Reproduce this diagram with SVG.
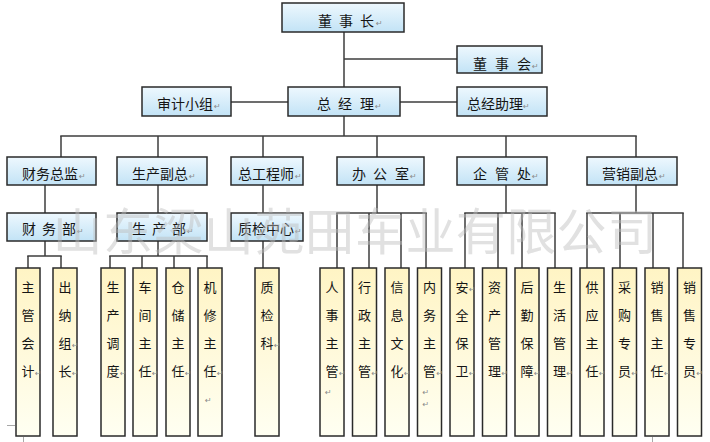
<svg xmlns="http://www.w3.org/2000/svg" width="710" height="442" viewBox="0 0 710 442">
<defs>
<linearGradient id="gb" x1="0" y1="0" x2="0" y2="1"><stop offset="0" stop-color="#eef8fe"/><stop offset="1" stop-color="#c2e3f6"/></linearGradient>
<linearGradient id="gy" x1="0" y1="0" x2="0" y2="1"><stop offset="0" stop-color="#fff4c4"/><stop offset="1" stop-color="#fffff2"/></linearGradient>
<style>
.b{fill:url(#gb);stroke:#2a2a2a;stroke-width:1.5}
.y{fill:url(#gy);stroke:#2a2a2a;stroke-width:1.5}
.t{font-family:"Noto Sans CJK SC","Noto Sans CJK JP",sans-serif;font-size:14px;fill:#151515}
.l{font-family:"Noto Sans CJK SC","Noto Sans CJK JP",sans-serif;font-size:13px;fill:#151515;text-anchor:middle}
.r{font-family:"DejaVu Sans",sans-serif;font-size:8px;fill:#8a8a8a}
.c line{stroke:#3c3c3c;stroke-width:1.5}
.wm{font-family:"Noto Sans CJK SC","Noto Sans CJK JP",sans-serif;font-size:50px;fill:#bdbdbd;opacity:0.45;letter-spacing:0.4px}
</style>
</defs>
<rect width="710" height="442" fill="#ffffff"/>
<g id="connectors" class="c">
<line x1="344" y1="32" x2="344" y2="87"/>
<line x1="344" y1="59" x2="457" y2="59"/>
<line x1="231" y1="102" x2="288" y2="102"/>
<line x1="400" y1="102" x2="457" y2="102"/>
<line x1="344" y1="116" x2="344" y2="136"/>
<line x1="60.25" y1="136" x2="636.75" y2="136"/>
<line x1="61" y1="136" x2="61" y2="157"/>
<line x1="158" y1="136" x2="158" y2="157"/>
<line x1="263" y1="136" x2="263" y2="157"/>
<line x1="377" y1="136" x2="377" y2="157"/>
<line x1="506" y1="136" x2="506" y2="157"/>
<line x1="636" y1="136" x2="636" y2="157"/>
<line x1="45" y1="185" x2="45" y2="213"/>
<line x1="158" y1="185" x2="158" y2="213"/>
<line x1="263" y1="185" x2="263" y2="213"/>
<line x1="377" y1="185" x2="377" y2="213"/>
<line x1="506" y1="185" x2="506" y2="213"/>
<line x1="636" y1="185" x2="636" y2="213"/>
<line x1="336.25" y1="213" x2="426.75" y2="213"/>
<line x1="337" y1="213" x2="337" y2="268"/>
<line x1="369" y1="213" x2="369" y2="268"/>
<line x1="401" y1="213" x2="401" y2="268"/>
<line x1="426" y1="213" x2="426" y2="268"/>
<line x1="464.25" y1="213" x2="555.75" y2="213"/>
<line x1="465" y1="213" x2="465" y2="268"/>
<line x1="498" y1="213" x2="498" y2="268"/>
<line x1="522" y1="213" x2="522" y2="268"/>
<line x1="555" y1="213" x2="555" y2="268"/>
<line x1="586.25" y1="213" x2="683.75" y2="213"/>
<line x1="587" y1="213" x2="587" y2="268"/>
<line x1="620" y1="213" x2="620" y2="268"/>
<line x1="653" y1="213" x2="653" y2="268"/>
<line x1="683" y1="213" x2="683" y2="268"/>
<line x1="45" y1="241" x2="45" y2="256"/>
<line x1="27.25" y1="256" x2="61.75" y2="256"/>
<line x1="28" y1="256" x2="28" y2="268"/>
<line x1="61" y1="256" x2="61" y2="268"/>
<line x1="158" y1="241" x2="158" y2="256"/>
<line x1="109.25" y1="256" x2="207.75" y2="256"/>
<line x1="110" y1="256" x2="110" y2="268"/>
<line x1="142" y1="256" x2="142" y2="268"/>
<line x1="174" y1="256" x2="174" y2="268"/>
<line x1="207" y1="256" x2="207" y2="268"/>
<line x1="263" y1="241" x2="263" y2="268"/>
</g>
<g id="n-dongshizhang"><rect class="b" x="282" y="3" width="122" height="29"/><text class="t" x="318 339 360" y="26">董事长</text><text class="r" x="376" y="26">↵</text></g>
<g id="n-dongshihui"><rect class="b" x="457" y="46" width="85" height="27"/><text class="t" x="473 495 517" y="69">董事会</text><text class="r" x="532" y="69">↵</text></g>
<g id="n-shenjixiaozu"><rect class="b" x="142" y="87" width="89" height="29"/><text class="t" x="157" y="109">审计小组</text><text class="r" x="214" y="109">↵</text></g>
<g id="n-zongjingli"><rect class="b" x="288" y="87" width="112" height="29"/><text class="t" x="317 338 360" y="109">总经理</text><text class="r" x="375" y="109">↵</text></g>
<g id="n-zongjingzhuli"><rect class="b" x="457" y="87" width="90" height="29"/><text class="t" x="467" y="109">总经助理</text><text class="r" x="523" y="109">↵</text></g>
<g id="n-caiwuzongjian"><rect class="b" x="7" y="157" width="89" height="28"/><text class="t" x="22" y="179">财务总监</text><text class="r" x="79" y="179">↵</text></g>
<g id="n-shengchanfuzong"><rect class="b" x="117" y="157" width="90" height="28"/><text class="t" x="132" y="179">生产副总</text><text class="r" x="189" y="179">↵</text></g>
<g id="n-zonggongchengshi"><rect class="b" x="231" y="157" width="72" height="28"/><text class="t" x="238" y="179">总工程师</text><text class="r" x="295" y="179">↵</text></g>
<g id="n-bangongshi"><rect class="b" x="337" y="157" width="87" height="28"/><text class="t" x="352 373 395" y="179">办公室</text><text class="r" x="410" y="179">↵</text></g>
<g id="n-qiguanchu"><rect class="b" x="457" y="157" width="90" height="28"/><text class="t" x="473 495 517" y="179">企管处</text><text class="r" x="532" y="179">↵</text></g>
<g id="n-yingxiaofuzong"><rect class="b" x="587" y="157" width="90" height="28"/><text class="t" x="602" y="179">营销副总</text><text class="r" x="659" y="179">↵</text></g>
<g id="n-caiwubu"><rect class="b" x="7" y="213" width="89" height="28"/><text class="t" x="22 42 62" y="234">财务部</text><text class="r" x="77" y="234">↵</text></g>
<g id="n-shengchanbu"><rect class="b" x="117" y="213" width="90" height="28"/><text class="t" x="132 152 172" y="234">生产部</text><text class="r" x="187" y="234">↵</text></g>
<g id="n-zhijianzhongxin"><rect class="b" x="231" y="213" width="72" height="28"/><text class="t" x="238" y="234">质检中心</text><text class="r" x="295" y="234">↵</text></g>
<g id="n-zhuguankuaiji"><rect class="y" x="16" y="268" width="24" height="168"/><text class="l"><tspan x="28" y="292">主</tspan><tspan x="28" y="320">管</tspan><tspan x="28" y="348">会</tspan><tspan x="28" y="376">计</tspan></text><text class="r" x="35" y="376">↵</text></g>
<g id="n-chunazuzhang"><rect class="y" x="53" y="268" width="24" height="168"/><text class="l"><tspan x="65" y="292">出</tspan><tspan x="65" y="320">纳</tspan><tspan x="65" y="348">组</tspan><tspan x="65" y="376">长</tspan></text><text class="r" x="72" y="348">↵</text><text class="r" x="72" y="376">↵</text></g>
<g id="n-shengchandiaodu"><rect class="y" x="101" y="268" width="24" height="168"/><text class="l"><tspan x="113" y="292">生</tspan><tspan x="113" y="320">产</tspan><tspan x="113" y="348">调</tspan><tspan x="113" y="376">度</tspan></text><text class="r" x="120" y="376">↵</text></g>
<g id="n-chejianzhuren"><rect class="y" x="133" y="268" width="24" height="168"/><text class="l"><tspan x="145" y="292">车</tspan><tspan x="145" y="320">间</tspan><tspan x="145" y="348">主</tspan><tspan x="145" y="376">任</tspan></text><text class="r" x="152" y="376">↵</text></g>
<g id="n-cangchuzhuren"><rect class="y" x="166" y="268" width="24" height="168"/><text class="l"><tspan x="178" y="292">仓</tspan><tspan x="178" y="320">储</tspan><tspan x="178" y="348">主</tspan><tspan x="178" y="376">任</tspan></text><text class="r" x="185" y="376">↵</text></g>
<g id="n-jixiuzhuren"><rect class="y" x="198" y="268" width="24" height="168"/><text class="l"><tspan x="210" y="292">机</tspan><tspan x="210" y="320">修</tspan><tspan x="210" y="348">主</tspan><tspan x="210" y="376">任</tspan></text><text class="r" x="217" y="376">↵</text><text class="r" x="205" y="403">↵</text></g>
<g id="n-zhijianke"><rect class="y" x="255" y="268" width="24" height="168"/><text class="l"><tspan x="267" y="292">质</tspan><tspan x="267" y="320">检</tspan><tspan x="267" y="348">科</tspan></text><text class="r" x="274" y="348">↵</text></g>
<g id="n-renshizhuguan"><rect class="y" x="320" y="268" width="24" height="168"/><text class="l"><tspan x="332" y="292">人</tspan><tspan x="332" y="320">事</tspan><tspan x="332" y="348">主</tspan><tspan x="332" y="376">管</tspan></text><text class="r" x="339" y="376">↵</text><text class="r" x="325" y="395">↵</text></g>
<g id="n-xingzhengzhuguan"><rect class="y" x="352.5" y="268" width="24" height="168"/><text class="l"><tspan x="364.5" y="292">行</tspan><tspan x="364.5" y="320">政</tspan><tspan x="364.5" y="348">主</tspan><tspan x="364.5" y="376">管</tspan></text><text class="r" x="371.5" y="376">↵</text></g>
<g id="n-xinxiwenhua"><rect class="y" x="385" y="268" width="24" height="168"/><text class="l"><tspan x="397" y="292">信</tspan><tspan x="397" y="320">息</tspan><tspan x="397" y="348">文</tspan><tspan x="397" y="376">化</tspan></text><text class="r" x="404" y="376">↵</text></g>
<g id="n-neiwuzhuguan"><rect class="y" x="417.5" y="268" width="24" height="168"/><text class="l"><tspan x="429.5" y="292">内</tspan><tspan x="429.5" y="320">务</tspan><tspan x="429.5" y="348">主</tspan><tspan x="429.5" y="376">管</tspan></text><text class="r" x="436.5" y="376">↵</text><text class="r" x="422.5" y="395">↵</text><text class="r" x="422.5" y="407">↵</text></g>
<g id="n-anquanbaowei"><rect class="y" x="450" y="268" width="24" height="168"/><text class="l"><tspan x="462" y="292">安</tspan><tspan x="462" y="320">全</tspan><tspan x="462" y="348">保</tspan><tspan x="462" y="376">卫</tspan></text><text class="r" x="469" y="292">↵</text><text class="r" x="469" y="376">↵</text></g>
<g id="n-zichanguanli"><rect class="y" x="482.5" y="268" width="24" height="168"/><text class="l"><tspan x="494.5" y="292">资</tspan><tspan x="494.5" y="320">产</tspan><tspan x="494.5" y="348">管</tspan><tspan x="494.5" y="376">理</tspan></text><text class="r" x="501.5" y="376">↵</text></g>
<g id="n-houqinbaozhang"><rect class="y" x="515" y="268" width="24" height="168"/><text class="l"><tspan x="527" y="292">后</tspan><tspan x="527" y="320">勤</tspan><tspan x="527" y="348">保</tspan><tspan x="527" y="376">障</tspan></text><text class="r" x="534" y="376">↵</text></g>
<g id="n-shenghuoguanli"><rect class="y" x="547.5" y="268" width="24" height="168"/><text class="l"><tspan x="559.5" y="292">生</tspan><tspan x="559.5" y="320">活</tspan><tspan x="559.5" y="348">管</tspan><tspan x="559.5" y="376">理</tspan></text><text class="r" x="566.5" y="376">↵</text></g>
<g id="n-gongyingzhuren"><rect class="y" x="580" y="268" width="24" height="168"/><text class="l"><tspan x="592" y="292">供</tspan><tspan x="592" y="320">应</tspan><tspan x="592" y="348">主</tspan><tspan x="592" y="376">任</tspan></text><text class="r" x="599" y="376">↵</text></g>
<g id="n-caigouzhuanyuan"><rect class="y" x="612.5" y="268" width="24" height="168"/><text class="l"><tspan x="624.5" y="292">采</tspan><tspan x="624.5" y="320">购</tspan><tspan x="624.5" y="348">专</tspan><tspan x="624.5" y="376">员</tspan></text><text class="r" x="631.5" y="376">↵</text></g>
<g id="n-xiaoshouzhuren"><rect class="y" x="645" y="268" width="24" height="168"/><text class="l"><tspan x="657" y="292">销</tspan><tspan x="657" y="320">售</tspan><tspan x="657" y="348">主</tspan><tspan x="657" y="376">任</tspan></text><text class="r" x="664" y="376">↵</text></g>
<g id="n-xiaoshouzhuanyuan"><rect class="y" x="677.5" y="268" width="24" height="168"/><text class="l"><tspan x="689.5" y="292">销</tspan><tspan x="689.5" y="320">售</tspan><tspan x="689.5" y="348">专</tspan><tspan x="689.5" y="376">员</tspan></text><text class="r" x="696.5" y="376">↵</text></g>
<g id="marks" stroke="#a8a8a8" stroke-width="1"><line x1="7" y1="425.5" x2="15" y2="425.5"/><line x1="23.5" y1="437" x2="23.5" y2="442"/><line x1="652.5" y1="437" x2="652.5" y2="442"/></g>
<text class="wm" x="52.6" y="250">山东梁山苑田车业有限公司</text>
</svg>
